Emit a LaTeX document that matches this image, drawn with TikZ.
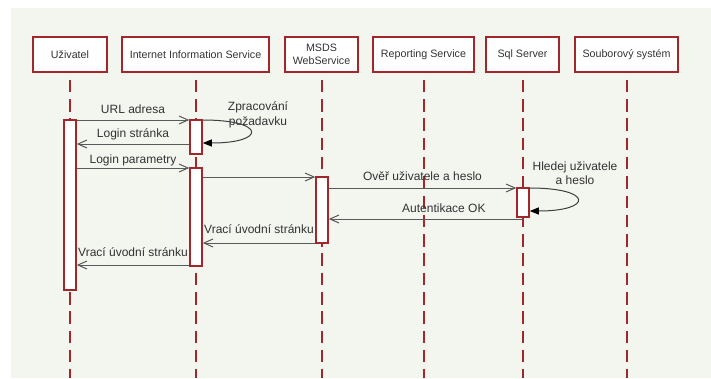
\documentclass[tikz,border=0pt]{standalone}
\usepackage{fontspec}
\setmainfont{Liberation Sans}
\usepackage{tikz}
\usetikzlibrary{arrows.meta}

\definecolor{lifered}{HTML}{A3262A}
\definecolor{canvas}{HTML}{F3F5EF}
\definecolor{msggray}{HTML}{5A5A5A}
\definecolor{txtgray}{HTML}{333333}

\begin{document}
\begin{tikzpicture}[x=1pt,y=-1pt,
  obj node/.style={rectangle,draw=lifered,fill=white,line width=1.5pt,
  font=\fontsize{10.7}{12.5}\selectfont,text=txtgray,minimum height=35pt,align=center,inner sep=0pt},
  act node/.style={rectangle,draw=lifered,fill=white,line width=1.5pt,minimum width=12pt,inner sep=0pt},
  lifeline/.style={draw=lifered,line width=2pt,dash pattern=on 12.5pt off 6.8pt},
  msg/.style={draw=msggray,line width=1pt,-{Straight Barb[length=9pt,width=8pt]}},
  self msg/.style={draw=msggray!70!black,line width=1pt,-{Triangle[length=9pt,width=7pt,color=black]},
  out=0,in=0,looseness=7.1},
  lbl/.style={anchor=base,yshift=7pt,font=\fontsize{12}{14.5}\selectfont,text=txtgray,inner sep=0pt},
  note/.style={font=\fontsize{12}{14.5}\selectfont,text=txtgray,align=center,inner sep=0pt}]

  \useasboundingbox (0,0) rectangle (711,378);
  \fill[canvas] (11,8) rectangle (711,378);

  % objects
  \node[obj node,minimum width=74pt] (U) at (70,54.5) {Uživatel};
  \node[obj node,minimum width=147pt] (IIS) at (195.5,54.5) {Internet Information Service};
  \node[obj node,minimum width=73pt] (MSDS) at (321.5,54.5) {MSDS\\WebService};
  \node[obj node,minimum width=101pt] (RS) at (423.5,54.5) {Reporting Service};
  \node[obj node,minimum width=73pt] (SQL) at (522.5,54.5) {Sql Server};
  \node[obj node,minimum width=103pt] (FS) at (626.5,54.5) {Souborový systém};

  \coordinate (bot) at (0,378);
  \foreach \o in {U,IIS,MSDS,RS,SQL,FS}
    \draw[lifeline] ([yshift=-7pt]\o.south) -- (\o.south |- bot);

  % activations
  \node[act node,minimum height=170pt] (uAct) at (70,205) {};
  \node[act node,minimum height=34pt] (iAct1) at (196,137) {};
  \node[act node,minimum height=98pt] (iAct2) at (196,217) {};
  \node[act node,minimum height=66pt] (mAct) at (322,210) {};
  \node[act node,minimum height=29pt] (sAct) at (523,202.5) {};

  % message levels
  \coordinate (m1) at (0,120);
  \coordinate (m1r) at (0,143);
  \coordinate (m2) at (0,144);
  \coordinate (m3) at (0,168);
  \coordinate (m4) at (0,177);
  \coordinate (m5) at (0,188);
  \coordinate (m5r) at (0,211);
  \coordinate (m6) at (0,219);
  \coordinate (m7) at (0,243);
  \coordinate (m8) at (0,265);

  \node[note] (zprac) at (258,115) {Zpracování\\požadavku};
  \node[note] (hledej) at (575,173) {Hledej uživatele\\a heslo};

  \path
     (uAct.east |- m1) edge[msg] node[lbl] {URL adresa} (iAct1.west |- m1)
     (iAct1.east |- m1) edge[self msg] (iAct1.east |- m1r)
     (iAct1.west |- m2) edge[msg] node[lbl] {Login stránka} (uAct.east |- m2)
     (uAct.east |- m3) edge[msg] node[lbl,yshift=-2pt] {Login parametry} (iAct2.west |- m3)
     (iAct2.east |- m4) edge[msg] (mAct.west |- m4)
     (mAct.east |- m5) edge[msg] node[lbl,yshift=1pt] {Ověř uživatele a heslo} (sAct.west |- m5)
     (sAct.east |- m5) edge[self msg] (sAct.east |- m5r)
     (sAct.south |- m6) edge[msg] node[lbl,xshift=18pt] {Autentikace OK} (mAct.east |- m6)
     (mAct.west |- m7) edge[msg] node[lbl,yshift=3pt] {Vrací úvodní stránku} (iAct2.east |- m7)
     (iAct2.west |- m8) edge[msg] node[lbl,yshift=2pt] {Vrací úvodní stránku} (uAct.east |- m8);
\end{tikzpicture}
\end{document}
